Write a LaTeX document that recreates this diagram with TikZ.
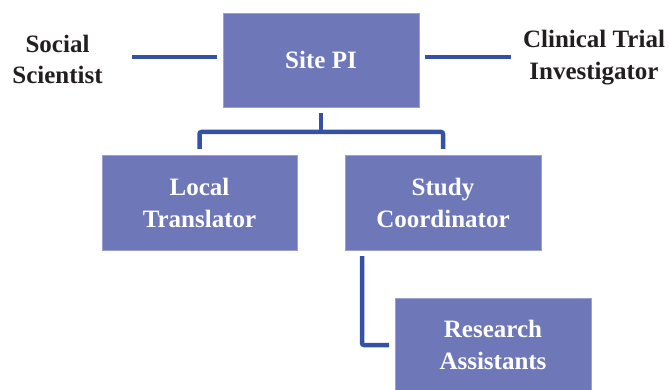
\documentclass[tikz,border=0pt]{standalone}
\usepackage{fontspec}
\setmainfont{Liberation Serif}
\definecolor{boxfill}{HTML}{6E77B8}
\definecolor{boxedge}{HTML}{9AA0D2}
\definecolor{linecol}{HTML}{3451A5}
\definecolor{txt}{HTML}{231F20}
\tikzset{
  orgbox/.style={rectangle, fill=boxfill, draw=boxedge, line width=0.6pt,
    minimum width=196pt, minimum height=94pt, inner sep=0pt, outer sep=0pt,
    text=white, align=center, font=\bfseries\fontsize{25}{32}\selectfont},
  sidelabel/.style={text=txt, align=center, inner sep=0pt, outer sep=0pt,
    font=\bfseries\fontsize{25}{32}\selectfont},
  conn/.style={draw=linecol, line width=4.5pt}
}
\begin{document}
\begin{tikzpicture}[x=1pt,y=-1pt]
\useasboundingbox (0,0) rectangle (669,390);
\node[orgbox] (pi) at (321,60) {\raisebox{-3pt}{Site PI}};
\node[orgbox, minimum width=195pt, minimum height=95pt] (lt) at (199.5,202.5) {Local\\Translator};
\node[orgbox, minimum height=95pt] (sc) at (443,202.5) {Study\\Coordinator};
\node[orgbox] (ra) at (493,345) {Research\\Assistants};
\node[sidelabel, font=\bfseries\fontsize{25}{31}\selectfont] (ss) at (57.5,59) {Social\\Scientist};
\node[sidelabel] (ct) at (594,58) {Clinical Trial\\Investigator};
% side connectors
\coordinate (ssend) at (132,57);
\coordinate (ctend) at (511,57);
\draw[conn] ([xshift=-6pt,yshift=3pt]pi.west) -- (ssend);
\draw[conn] ([xshift=6pt,yshift=3pt]pi.east) -- (ctend);
% tree
\coordinate (jn) at (321,132);
\draw[conn] ([yshift=-6pt]pi.south) -- (jn);
\draw[conn, rounded corners=2pt] ([yshift=6pt]lt.north) |- (jn) -| ([yshift=6pt]sc.north);
\draw[conn, rounded corners=2pt] ([xshift=17pt,yshift=-6pt]sc.south west) |- ([xshift=-6pt]ra.west);
\end{tikzpicture}
\end{document}
